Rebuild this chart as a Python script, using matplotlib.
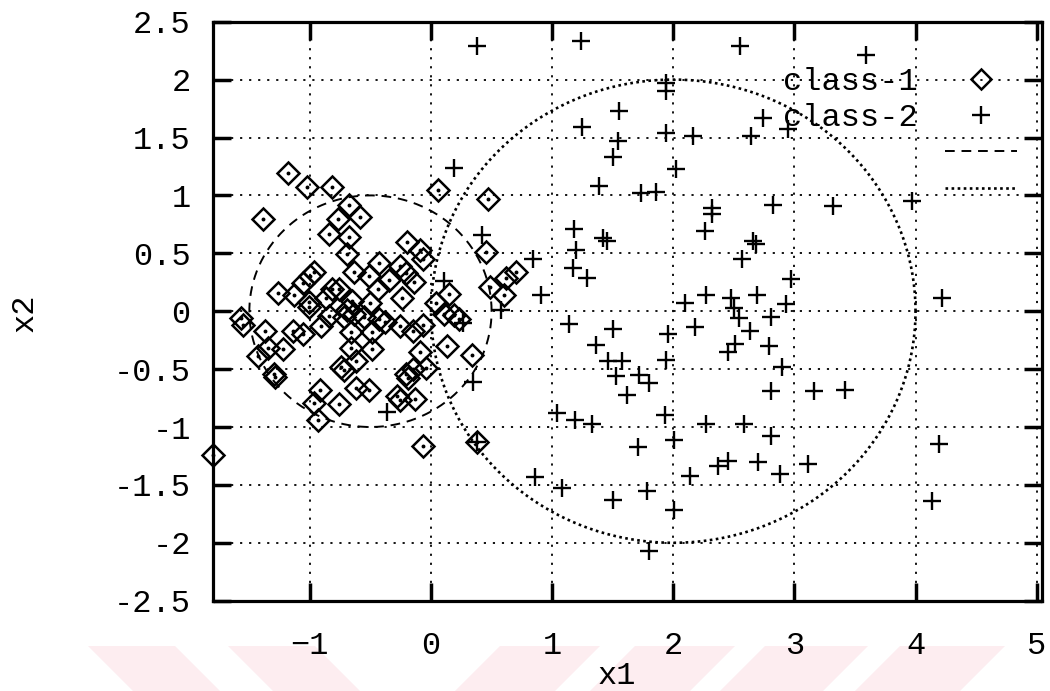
import numpy as np
import matplotlib
matplotlib.use("Agg")
import matplotlib.pyplot as plt
from matplotlib.lines import Line2D
from matplotlib.patches import Polygon

plt.rcParams["font.family"] = ["Liberation Mono", "DejaVu Sans Mono"]

# class-1 samples (diamonds)
c1_x1 = [-1.18, -1.02, -0.82, 0.06, 0.47, -1.39, -0.68, -0.59, -0.77, -0.84,
         -0.68, -0.69, -0.20, -0.09, -0.07, 0.45, -0.43, -0.26, -0.21, -0.64,
         -0.51, -0.35, -0.14, -0.97, -1.00, -1.06, -1.26, -1.13, -1.01, -1.01,
         -0.87, -0.82, -0.76, -0.44, -0.24, -0.50, -0.65, -0.69, -0.55, -0.43,
         -0.38, -0.26, -0.07, -0.15, 0.04, 0.15, 0.11, 0.19, 0.23, 0.49,
         0.62, 0.70, 0.60, -1.57, -1.55, -1.37, -1.14, -1.06, -0.91, -0.84,
         -0.66, -0.49, -0.66, -0.49, -1.35, -1.22, -1.43, -1.30, -1.29, -0.74,
         -0.72, -0.62, -0.92, -0.97, -0.93, -0.76, -0.62, -0.51, -0.28, -0.26,
         -0.13, -0.21, -0.19, -0.15, -0.04, -0.09, 0.13, 0.34, -0.07, 0.38,
         -1.80, -0.64, -0.72]
c1_x2 = [1.19, 1.07, 1.07, 1.05, 0.97, 0.80, 0.92, 0.81, 0.80, 0.67,
         0.64, 0.49, 0.60, 0.53, 0.45, 0.51, 0.42, 0.39, 0.33, 0.34,
         0.30, 0.27, 0.25, 0.34, 0.30, 0.24, 0.16, 0.14, 0.08, 0.04,
         0.11, 0.19, 0.19, 0.19, 0.11, 0.07, 0.09, 0.01, -0.05, -0.07,
         -0.09, -0.13, -0.12, -0.17, 0.07, 0.15, -0.02, -0.03, -0.07, 0.21,
         0.29, 0.34, 0.14, -0.06, -0.12, -0.17, -0.17, -0.20, -0.13, -0.04,
         -0.18, -0.18, -0.32, -0.33, -0.32, -0.33, -0.39, -0.54, -0.57, -0.48,
         -0.51, -0.43, -0.68, -0.79, -0.94, -0.80, -0.66, -0.68, -0.73, -0.77,
         -0.76, -0.54, -0.58, -0.50, -0.49, -0.35, -0.30, -0.38, -1.16, -1.13,
         -1.24, -0.02, -0.05]

# class-2 samples (plus signs)
c2_x1 = [0.38, 1.24, 2.55, 3.59, 1.94, 1.94, 1.55, 1.25, 1.54, 1.50,
         1.94, 2.16, 2.64, 2.95, 2.74, 2.02, 0.19, 1.39, 1.73, 1.86,
         2.32, 2.32, 2.26, 2.82, 3.32, 3.97, 2.66, 2.68, 2.57, 2.97,
         2.69, 2.93, 4.22, 2.81, 2.63, 2.79, 2.90, 2.81, 3.16, 3.42,
         2.58, 2.81, 4.19, 2.70, 2.88, 3.11, 4.14, 0.42, 0.84, 0.91,
         0.11, 0.58, 1.18, 1.42, 1.45, 1.20, 1.17, 1.29, 2.10, 2.27,
         2.48, 2.50, 2.54, 1.14, 1.50, 1.96, 2.18, 2.45, 2.51, 1.36,
         1.46, 1.58, 1.94, 1.53, 1.72, 1.80, 1.62, 1.04, 1.19, 1.33,
         1.93, 2.27, 1.71, 2.01, 2.45, 2.37, 2.14, 0.86, 1.08, 1.78,
         1.50, 2.01, 1.80, 0.35, 0.38, 0.26, -0.36]
c2_x2 = [2.29, 2.33, 2.29, 2.21, 1.97, 1.90, 1.73, 1.59, 1.47, 1.33,
         1.54, 1.51, 1.51, 1.57, 1.67, 1.23, 1.24, 1.08, 1.02, 1.03,
         0.89, 0.84, 0.69, 0.92, 0.91, 0.95, 0.61, 0.58, 0.45, 0.28,
         0.14, 0.06, 0.11, -0.05, -0.17, -0.30, -0.48, -0.69, -0.69, -0.68,
         -0.97, -1.08, -1.15, -1.30, -1.41, -1.32, -1.64, 0.66, 0.45, 0.14,
         0.26, 0.01, 0.71, 0.63, 0.61, 0.53, 0.37, 0.29, 0.07, 0.14,
         0.11, 0.03, -0.06, -0.11, -0.15, -0.20, -0.14, -0.35, -0.28, -0.29,
         -0.43, -0.43, -0.42, -0.56, -0.55, -0.62, -0.72, -0.88, -0.94, -0.97,
         -0.90, -0.97, -1.17, -1.11, -1.29, -1.34, -1.42, -1.43, -1.53, -1.55,
         -1.63, -1.72, -2.07, -0.61, -1.13, -0.10, -0.87]

# decision boundaries: (centre x1, centre x2, radius)
circle1 = (-0.5, 0.0, 1.0)
circle2 = (2.0, 0.0, 2.0)

xticks = [-1, 0, 1, 2, 3, 4, 5]
yticks = [-2.5, -2, -1.5, -1, -0.5, 0, 0.5, 1, 1.5, 2, 2.5]
ytick_labels = ["-2.5", "-2", "-1.5", "-1", "-0.5", "0", "0.5", "1", "1.5", "2", "2.5"]

dash_style = (0, (5, 3.5))
dot_style = (0, (1.0, 1.3))

fig = plt.figure(figsize=(10.5, 6.91), dpi=100)

# faint chevron band along the bottom edge
pink = "#fdedf0"
for x0, x1, shift in [(88, 175, 45), (228, 315, 45), (500, 600, -45),
                      (635, 735, -45), (765, 868, -45), (900, 1005, -45)]:
    top = 1 - 646 / 691
    pts = [(x0 / 1050, top), (x1 / 1050, top),
           ((x1 + shift) / 1050, 0), ((x0 + shift) / 1050, 0)]
    fig.patches.append(Polygon(pts, closed=True, transform=fig.transFigure,
                               facecolor=pink, edgecolor="none", zorder=-5))

ax = fig.add_axes([213 / 1050, 1 - 600.7 / 691, 828.5 / 1050, 579 / 691])
ax.patch.set_alpha(0)
ax.set_xlim(-1.8, 5.04)
ax.set_ylim(-2.5, 2.5)

ax.grid(True, color="black", linestyle=(0, (1.2, 3.8)), linewidth=1.3)
ax.set_axisbelow(True)

t = np.linspace(0, 2 * np.pi, 400)
cx, cy, r = circle1
ax.plot(cx + r * np.cos(t), cy + r * np.sin(t), color="black",
        linewidth=1.4, linestyle=dash_style)
cx, cy, r = circle2
ax.plot(cx + r * np.cos(t), cy + r * np.sin(t), color="black",
        linewidth=1.9, linestyle=dot_style)

ax.plot(c1_x1, c1_x2, linestyle="none", marker="D", markersize=11,
        markerfacecolor="none", markeredgecolor="black", markeredgewidth=1.8,
        clip_on=False)
ax.plot(c1_x1, c1_x2, linestyle="none", marker="o", markersize=1.8,
        color="black", clip_on=False)
ax.plot(c2_x1, c2_x2, linestyle="none", marker="+", markersize=13,
        markeredgecolor="black", markeredgewidth=1.7)

for side in ax.spines.values():
    side.set_linewidth(2.3)
ax.tick_params(direction="in", length=13, width=2.5, top=True, right=True,
               labelsize=23)
ax.tick_params(axis="x", pad=22)
ax.tick_params(axis="y", pad=16)
ax.set_xticks(xticks)
ax.set_yticks(yticks)
ax.set_yticklabels(ytick_labels)

fig.text(617 / 1050, 1 - 676 / 691, "x1", ha="center", va="center", fontsize=23)
fig.text(25 / 1050, 1 - 313 / 691, "x2", ha="center", va="center",
         fontsize=23, rotation=90)

handles = [
    Line2D([], [], linestyle="none", marker="D", markersize=10,
           markerfacecolor="none", markeredgecolor="black", markeredgewidth=1.8),
    Line2D([], [], linestyle="none", marker="+", markersize=13,
           markeredgecolor="black", markeredgewidth=1.7),
    Line2D([], [], color="black", linewidth=1.4, linestyle=dash_style),
    Line2D([], [], color="black", linewidth=1.9, linestyle=dot_style),
]
ax.legend(handles, ["class-1", "class-2", "", ""], loc="upper right",
          bbox_to_anchor=(0.970, 0.922), frameon=False, fontsize=23,
          markerfirst=False, handlelength=2.25, handletextpad=0.85,
          labelspacing=0.2, borderpad=0, borderaxespad=0)

fig.savefig("out.png", dpi=100)
